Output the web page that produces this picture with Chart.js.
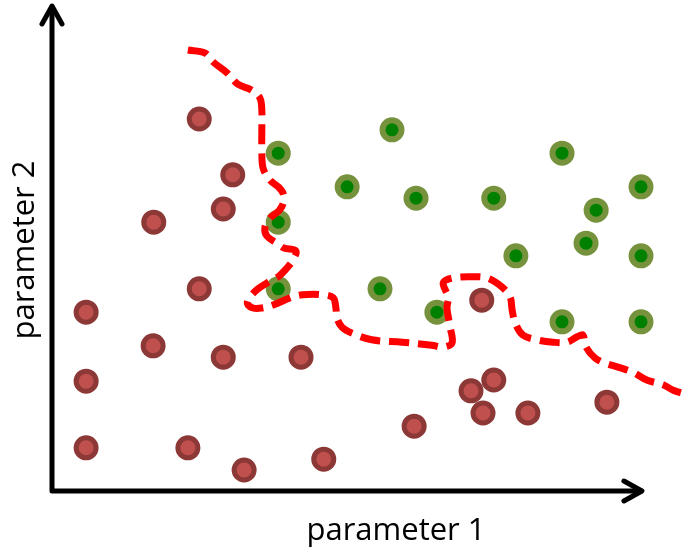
<!DOCTYPE html>
<html>
<head>
<meta charset="utf-8">
<script src="https://cdn.jsdelivr.net/npm/chart.js@4/dist/chart.umd.min.js"></script>
<style>
  html, body { margin: 0; padding: 0; background: #ffffff; }
  #wrap { width: 684px; height: 547px; }
</style>
</head>
<body>
<div id="wrap"><canvas id="c" width="684" height="547"></canvas></div>
<script>
// Class A samples (red)
const redX = [2.33, 2.86, 2.71, 1.61, 2.33, 0.54, 1.60, 2.71, 3.94, 0.54, 0.54, 2.15, 3.04, 4.30, 5.73, 6.80, 6.63, 6.99, 6.82, 7.53, 8.78];
const redY = [6.20, 5.27, 4.70, 4.48, 3.37, 2.98, 2.42, 2.23, 2.23, 1.83, 0.72, 0.72, 0.35, 0.53, 1.08, 3.18, 1.67, 1.85, 1.30, 1.30, 1.48];

// Class B samples (green)
const greenX = [3.58, 3.58, 3.58, 5.38, 4.67, 5.76, 6.99, 5.19, 6.09, 8.07, 9.32, 8.61, 8.45, 9.32, 7.34, 8.07, 9.32];
const greenY = [5.63, 4.48, 3.37, 6.02, 5.07, 4.88, 4.88, 3.37, 2.98, 5.63, 5.07, 4.68, 4.13, 3.92, 3.92, 2.82, 2.82];

// Decision boundary separating the two classes
const boundaryX = [2.15, 2.42, 2.55, 2.77, 2.94, 3.16, 3.29, 3.32, 3.32, 3.32, 3.34, 3.45, 3.58, 3.66, 3.66, 3.59, 3.45, 3.37, 3.40, 3.56, 3.67, 3.86, 3.80, 3.72, 3.59, 3.42, 3.26, 3.13, 3.09, 3.18, 3.32, 3.50, 3.77, 3.96, 4.29, 4.45, 4.49, 4.51, 4.59, 4.75, 5.06, 5.54, 6.01, 6.19, 6.33, 6.30, 6.25, 6.27, 6.19, 6.34, 6.61, 6.88, 7.12, 7.25, 7.28, 7.33, 7.45, 7.67, 7.93, 8.15, 8.31, 8.40, 8.45, 8.59, 8.75, 8.94, 9.19, 9.41, 9.67, 9.83, 10.0];
const boundaryY = [7.35, 7.30, 7.15, 6.97, 6.78, 6.68, 6.55, 6.35, 6.02, 5.68, 5.38, 5.18, 5.07, 4.95, 4.80, 4.67, 4.55, 4.40, 4.25, 4.13, 4.05, 4.00, 3.83, 3.72, 3.58, 3.48, 3.37, 3.23, 3.13, 3.05, 3.05, 3.10, 3.22, 3.27, 3.27, 3.22, 3.07, 2.88, 2.73, 2.63, 2.52, 2.48, 2.43, 2.40, 2.47, 2.73, 3.05, 3.23, 3.47, 3.55, 3.57, 3.55, 3.40, 3.23, 3.02, 2.80, 2.60, 2.52, 2.48, 2.48, 2.57, 2.60, 2.40, 2.22, 2.13, 2.07, 1.98, 1.85, 1.77, 1.68, 1.62];

// Axis extents (arrow tips) and labels
const xAxisEnd = 9.35;
const yAxisEnd = 8.1;
const xLabel = 'parameter 1';
const yLabel = 'parameter 2';

const toPoints = (xs, ys) => xs.map((x, i) => ({ x: x, y: ys[i] }));

const LABEL_FONT = '31px "Open Sans", "Noto Sans", sans-serif';

// Draws the two arrowed axes and their labels
const arrowAxes = {
  id: 'arrowAxes',
  beforeDatasetsDraw(chart) {
    const { ctx, scales: { x, y } } = chart;
    const ox = x.getPixelForValue(0);
    const oy = y.getPixelForValue(0);
    const tx = x.getPixelForValue(xAxisEnd);
    const ty = y.getPixelForValue(yAxisEnd);
    ctx.save();
    ctx.strokeStyle = '#000000';
    ctx.lineWidth = 5;
    ctx.lineCap = 'round';
    ctx.lineJoin = 'round';
    // axes
    ctx.beginPath();
    ctx.moveTo(ox, ty + 2);
    ctx.lineTo(ox, oy);
    ctx.lineTo(tx - 2, oy);
    ctx.stroke();
    // arrow heads
    ctx.beginPath();
    ctx.moveTo(ox - 10, ty + 19);
    ctx.lineTo(ox, ty + 1);
    ctx.lineTo(ox + 10, ty + 19);
    ctx.moveTo(tx - 19, oy - 10);
    ctx.lineTo(tx - 1, oy);
    ctx.lineTo(tx - 19, oy + 10);
    ctx.stroke();
    ctx.restore();
  },
  afterDraw(chart) {
    const { ctx, chartArea } = chart;
    ctx.save();
    ctx.fillStyle = '#000000';
    ctx.font = LABEL_FONT;
    ctx.textAlign = 'center';
    ctx.textBaseline = 'alphabetic';
    ctx.fillText(xLabel, chartArea.left + 344, chartArea.bottom + 49);
    ctx.translate(chartArea.left - 18, chartArea.top + 239);
    ctx.rotate(-Math.PI / 2);
    ctx.fillText(yLabel, 0, 0);
    ctx.restore();
  }
};

new Chart(document.getElementById('c'), {
  type: 'scatter',
  data: {
    datasets: [
      {
        label: 'boundary',
        data: toPoints(boundaryX, boundaryY),
        showLine: true,
        borderColor: '#ff0000',
        borderWidth: 7,
        borderDash: [20, 9],
        borderCapStyle: 'butt',
        tension: 0.35,
        pointRadius: 0,
        fill: false,
        clip: false,
        order: 0
      },
      {
        label: 'class B',
        data: toPoints(greenX, greenY),
        backgroundColor: '#008000',
        borderColor: '#76923c',
        borderWidth: 6,
        pointRadius: 9.5,
        pointHoverRadius: 9.5,
        clip: false,
        order: 1
      },
      {
        label: 'class A',
        data: toPoints(redX, redY),
        backgroundColor: '#c0504d',
        borderColor: '#8c3836',
        borderWidth: 5,
        pointRadius: 10,
        pointHoverRadius: 10,
        clip: false,
        order: 2
      }
    ]
  },
  options: {
    responsive: false,
    animation: false,
    events: [],
    layout: { autoPadding: false, padding: { left: 52, right: 0, top: 11, bottom: 56 } },
    plugins: {
      legend: { display: false },
      tooltip: { enabled: false },
      title: { display: false }
    },
    scales: {
      x: { type: 'linear', min: 0, max: 10, display: false },
      y: { type: 'linear', min: 0, max: 8, display: false }
    }
  },
  plugins: [arrowAxes]
});
</script>
</body>
</html>
